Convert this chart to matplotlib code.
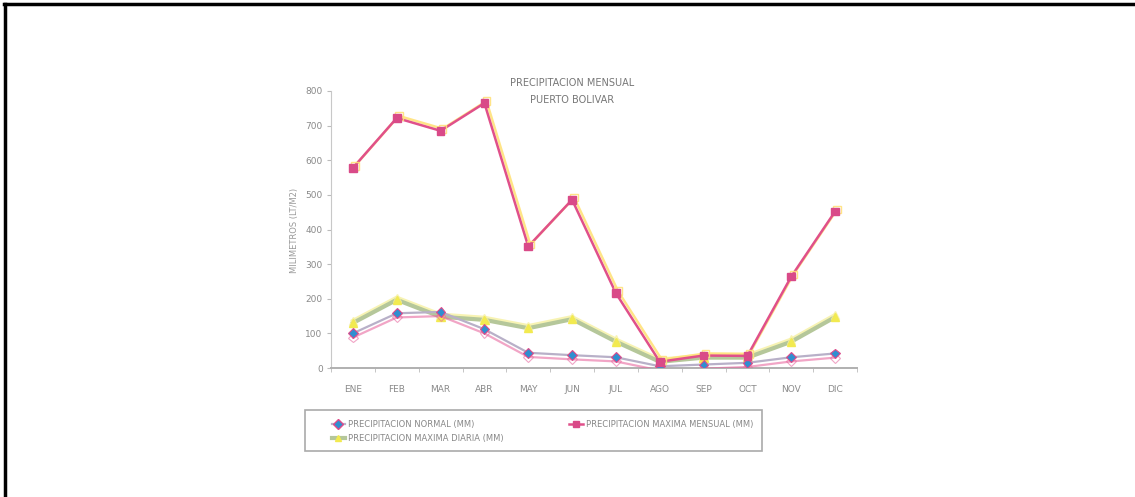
import matplotlib
matplotlib.use("Agg")
import matplotlib.pyplot as plt
import matplotlib.patheffects as pe
from matplotlib.lines import Line2D
from matplotlib.patches import Rectangle

months = ["ENE", "FEB", "MAR", "ABR", "MAY", "JUN", "JUL", "AGO", "SEP", "OCT", "NOV", "DIC"]
normal = [100, 158, 162, 112, 44, 37, 31, 5, 10, 15, 31, 42]
max_mensual = [578, 722, 685, 765, 351, 486, 216, 18, 36, 35, 264, 452]
max_diaria = [130, 197, 148, 139, 115, 141, 76, 18, 30, 30, 76, 147]
yticks = [0, 100, 200, 300, 400, 500, 600, 700, 800]

plt.rcParams['font.family'] = ['Liberation Sans Narrow', 'DejaVu Sans']

fig = plt.figure(figsize=(11.35, 4.97), dpi=100)
ax = fig.add_axes([331/1135, 1-368/497, 526/1135, 277/497])

x = list(range(len(months)))
txt = '#8a8a8a'

ax.plot(x, max_diaria, color='#b5c79a', lw=3.0, marker='^', ms=6,
        mfc='#f2ea50', mec='#f2ea50', zorder=2,
        path_effects=[pe.SimpleLineShadow(offset=(0, 1.5), shadow_color='#f6f0a0', alpha=0.8), pe.Normal()])
ax.plot(x, normal, color='#b8b0c8', lw=1.6, marker='D', ms=5,
        mfc='#2f8fd0', mec='#e04a8a', mew=0.8, zorder=3,
        path_effects=[pe.SimpleLineShadow(offset=(0, -3), shadow_color='#e86aa0', alpha=0.6), pe.Normal()])
ax.plot(x, max_mensual, color='#e0508a', lw=1.8, marker='s', ms=5.5,
        mfc='#d94a88', mec='#d94a88', zorder=4,
        path_effects=[pe.SimpleLineShadow(offset=(1.5, 1.5), shadow_color='#ffe27a', alpha=0.9), pe.Normal()])

ax.set_xlim(-0.5, 11.5)
ax.set_ylim(0, 800)
ax.set_yticks(yticks)
ax.set_yticklabels([str(v) for v in yticks], fontsize=6.5, color=txt)
ax.set_xticks(x)
ax.set_xticklabels(months, fontsize=6.5, color=txt)
ax.set_xticks([i - 0.5 for i in range(13)], minor=True)
ax.tick_params(axis='x', which='major', length=0, pad=12)
ax.tick_params(axis='x', which='minor', length=3, color='#bbbbbb', direction='out')
ax.tick_params(axis='y', length=3, color='#bbbbbb', direction='out', pad=3)
for s in ['top', 'right']:
    ax.spines[s].set_visible(False)
ax.spines['left'].set_color('#c8c8c8')
ax.spines['bottom'].set_color('#b0b0b0')
ax.spines['bottom'].set_linewidth(1.4)

fig.text(572/1135, 1-83/497, "PRECIPITACION MENSUAL", ha='center', va='center', fontsize=7, color='#777777')
fig.text(572/1135, 1-100/497, "PUERTO BOLIVAR", ha='center', va='center', fontsize=7, color='#777777')
fig.text(295/1135, 1-230/497, "MILIMETROS (LT/M2)", rotation=90, ha='center', va='center', fontsize=6, color='#999999')

handles = [
    Line2D([], [], color='#b8b0c8', lw=1.6, marker='D', ms=5, mfc='#2f8fd0', mec='#e04a8a'),
    Line2D([], [], color='#b5c79a', lw=3.0, marker='^', ms=5, mfc='#f2ea50', mec='#f2ea50'),
    Line2D([], [], color='#e0508a', lw=1.8, marker='s', ms=5, mfc='#d94a88', mec='#d94a88'),
]
labels = ["PRECIPITACION NORMAL (MM)", "PRECIPITACION MAXIMA DIARIA (MM)", "PRECIPITACION MAXIMA MENSUAL (MM)"]
fig.add_artist(Rectangle((305/1135, 1-451/497), 457/1135, 41/497, transform=fig.transFigure,
                         facecolor='none', edgecolor='#aaaaaa', lw=1.2))
leg = fig.legend(handles, labels, ncol=2, loc='lower left', mode='expand',
                 bbox_to_anchor=(330/1135, 1-445/497, 425/1135, 33/497),
                 bbox_transform=fig.transFigure, fontsize=6, frameon=False,
                 handlelength=1.6, handletextpad=0.4, labelspacing=0.6,
                 borderaxespad=0, borderpad=0.2)
for t in leg.get_texts():
    t.set_color('#888888')

# outer frame lines
fig.add_artist(Line2D([5/1135, 5/1135], [0, 1-4/497], color='black', lw=2.5, transform=fig.transFigure))
fig.add_artist(Line2D([4/1135, 1], [1-4/497, 1-4/497], color='black', lw=2.5, transform=fig.transFigure))

fig.savefig("out.png", dpi=100)
